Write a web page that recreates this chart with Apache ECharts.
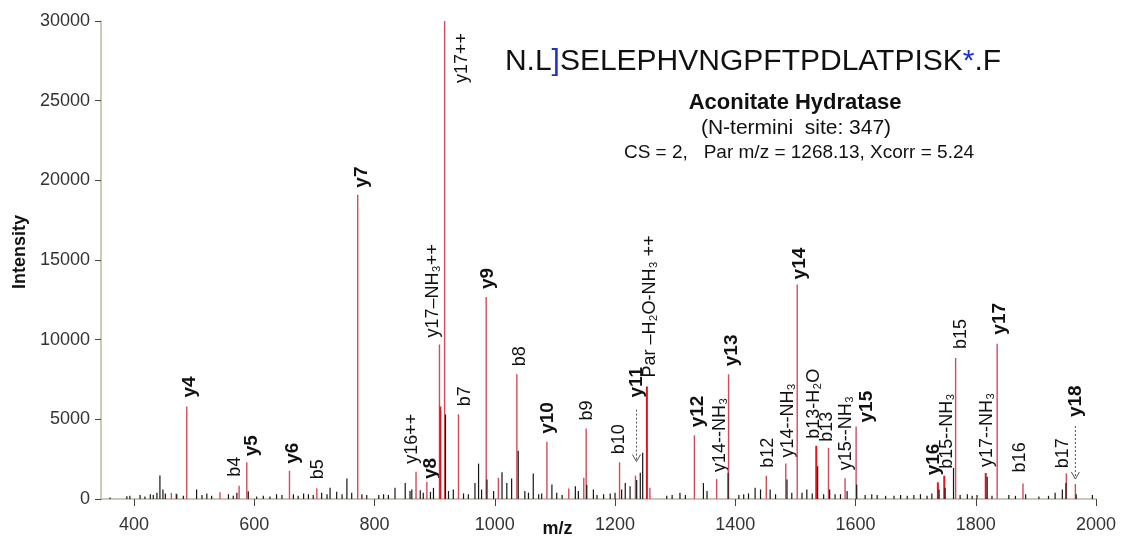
<!DOCTYPE html>
<html><head><meta charset="utf-8">
<script src="https://cdn.jsdelivr.net/npm/echarts@6/dist/echarts.min.js"></script>
<style>html,body{margin:0;padding:0;background:#fff}#c{width:1124px;height:546px}</style>
</head><body><div id="c"></div>
<script>
// ---- tick labels ----
const xTicks = [400, 600, 800, 1000, 1200, 1400, 1600, 1800, 2000];
const yTicks = [0, 5000, 10000, 15000, 20000, 25000, 30000];

// ---- annotated (matched) fragment ions ----
const ionMz = [462, 470, 487.6, 543, 574.7, 587.5, 658.5, 704, 772, 869, 887, 908, 909.5, 916.5, 939.6,
  985.7, 1006, 1036.7, 1086.7, 1123, 1148, 1152, 1207.5, 1234, 1253, 1258, 1332, 1369, 1388.8,
  1451.6, 1484, 1503, 1534.7, 1555, 1582.6, 1601, 1737, 1747.6, 1766.5, 1816.6, 1835.6, 1878.6, 1950.7, 1965.7];
const ionIntensity = [380, 350, 5800, 430, 830, 2300, 1770, 680, 19100, 1710, 1060, 9700, 5800, 30000, 5320,
  12670, 1330, 7830, 3590, 660, 1330, 4430, 2300, 1470, 7060, 700, 4000, 1250, 7830,
  1460, 2230, 13470, 3340, 3215, 1295, 4550, 1045, 1460, 8850, 1630, 9750, 980, 1610, 940];
const ionLabels = ['', '', 'y4', '', 'b4', 'y5', 'y6', 'b5', 'y7', 'y16++', 'y8', 'y17\u2013NH\u2083++', '', 'y17++', 'b7',
  'y9', '', 'b8', 'y10', '', '', 'b9', 'b10', 'y11', 'Par \u2013H\u2082O-NH\u2083 ++', '', 'y12', 'y14--NH\u2083', 'y13',
  'b12', 'y14--NH\u2083', 'y14', 'b13-H\u2082O', 'b13', 'y15--NH\u2083', 'y15', 'y16', 'b15--NH\u2083', 'b15', 'y17--NH\u2083', 'y17', 'b16', 'b17', 'y18'];

// ---- unannotated peaks ----
const noiseMz = [360,388,393,410,418,427,432,438,443,448,452,471,482,504,513,521,529,557,565,571,590,604,615,626,637,646,665,673,682,690,698,712,721,726,737,746,754,762,779,787,807,815,823,834,851,859,862,876,881,893,898,918,923,931,948,956,967,973,978,987,998,1012,1020,1028,1039,1050,1056,1064,1073,1078,1095,1103,1112,1134,1139,1153,1164,1170,1181,1192,1200,1211,1217,1225,1236,1242,1246,1286,1295,1308,1317,1347,1353,1388,1406,1414,1422,1433,1442,1458,1467,1486,1494,1511,1519,1528,1537,1547,1557,1566,1575,1586,1602,1616,1627,1636,1650,1664,1675,1686,1697,1708,1719,1727,1739,1749,1763,1774,1786,1794,1802,1819,1827,1855,1866,1883,1905,1921,1932,1944,1950,1967,1994];
const noiseIntensity = [100,175,200,250,150,300,250,400,1470,600,350,300,200,600,250,350,200,300,200,400,490,150,200,150,300,250,300,200,350,300,250,400,300,700,450,300,1280,390,300,250,250,300,250,700,1010,500,600,550,400,450,700,5300,500,600,350,300,1010,2220,600,1220,500,1680,1010,1280,3025,500,400,1600,300,350,910,400,250,800,500,900,600,250,300,350,400,600,1010,800,1200,1640,2900,200,250,400,250,1000,500,1640,250,300,350,700,600,600,300,1220,400,400,600,350,2050,300,600,300,300,500,910,250,300,250,200,200,250,200,250,300,200,350,600,700,1950,250,300,200,250,1400,200,250,200,300,150,200,400,600,1010,300,250];

// ---- styling (placement of rotated annotations: [dx px, gap px above peak top]) ----
const labelPlace = [null,null,[3,9],null,[-4,9],[5,6],[3,7],[1,9],[4,7],[-4,8],[4,3],[-6,7],null,[17,-62],[7,8],
  [2,8],null,[3,8],[1,8],null,null,[1,8],[-1,8],[1,78],[3,9],null,[3,8],[3,7],[3,8],
  [2,8],[2,6],[3,5],[-2,7],[-1,6],[1,8],[11,4],[-4,7],[3,7],[5,9],[1,6],[3,9],[-3,11],[-3,5],[0,67]];
const arrowCfg = {23: [12, 14], 43: [9, 5]}; // [start below label start, end gap above peak top]
const brightIdx = new Set([12, 24, 32, 36, 37, 39]);

const F = "'Liberation Sans', Arial, Helvetica, sans-serif";
const chart = echarts.init(document.getElementById('c'), null, {renderer: 'canvas'});

function renderNoise(params, api) {
  const x = api.value(0), v = api.value(1);
  const b = api.coord([x, 0]), t = api.coord([x, v]);
  return {type: 'line', shape: {x1: b[0], y1: b[1], x2: t[0], y2: t[1]},
    style: {stroke: '#151515', lineWidth: 1.2}};
}

function renderIon(params, api) {
  const i = params.dataIndex;
  const x = api.value(0), v = api.value(1);
  const b = api.coord([x, 0]), t = api.coord([x, v]);
  const bright = brightIdx.has(i);
  const children = [{type: 'line', shape: {x1: b[0], y1: b[1], x2: t[0], y2: t[1]},
    style: {stroke: bright ? '#e0161f' : '#d04c5a', lineWidth: bright ? 2 : 1.4}}];
  const lab = ionLabels[i];
  if (lab) {
    const pl = labelPlace[i];
    const bold = /^y\d+$/.test(lab);
    const ax = t[0] + pl[0], ay = t[1] - pl[1];
    children.push({type: 'text', x: ax, y: ay, rotation: Math.PI / 2,
      style: {text: lab, x: 0, y: 0, fill: '#111', fontFamily: F, fontSize: bold ? 19 : 18,
        fontWeight: bold ? 'bold' : 'normal', align: 'left', verticalAlign: 'middle'}});
    if (arrowCfg[i]) {
      const y1 = ay + arrowCfg[i][0], y2 = t[1] - arrowCfg[i][1];
      children.push({type: 'line', shape: {x1: ax, y1: y1, x2: ax, y2: y2},
        style: {stroke: '#555', lineWidth: 1, lineDash: [2, 2]}});
      children.push({type: 'polyline', shape: {points: [[ax - 4, y2 - 7], [ax, y2], [ax + 4, y2 - 7]]},
        style: {stroke: '#555', lineWidth: 1, fill: null}});
    }
  }
  return {type: 'group', children: children};
}

const option = {
  animation: false,
  backgroundColor: '#fff',
  grid: {left: 101, right: 28, top: 21, bottom: 47, outerBoundsMode: 'none', containLabel: false},
  xAxis: {
    type: 'value', min: 345, max: 2000,
    name: 'm/z', nameLocation: 'middle', nameGap: 21, nameMoveOverlap: false,
    nameTextStyle: {fontFamily: F, fontWeight: 'bold', fontSize: 18, color: '#111', padding: [0, 82, 0, 0]},
    axisLine: {show: true, onZero: false, lineStyle: {color: '#b8b89e', width: 1.5}},
    axisTick: {show: true, customValues: xTicks, length: 7, lineStyle: {color: '#444'}},
    axisLabel: {customValues: xTicks, fontFamily: F, fontSize: 18, color: '#333', margin: 17,
      formatter: function (v) { return String(v); }},
    splitLine: {show: false}
  },
  yAxis: {
    type: 'value', min: 0, max: 30000, interval: 5000,
    name: 'Intensity', nameLocation: 'middle', nameGap: 72, nameMoveOverlap: false,
    nameTextStyle: {fontFamily: F, fontWeight: 'bold', fontSize: 18, color: '#111', padding: [0, 0, 0, 16]},
    axisLine: {show: true, lineStyle: {color: '#b8b89e', width: 1.5}},
    axisTick: {show: true, length: 6, lineStyle: {color: '#444'}},
    axisLabel: {fontFamily: F, fontSize: 18, color: '#333', margin: 11,
      formatter: function (v) { return yTicks.indexOf(v) >= 0 ? String(v) : ''; }},
    splitLine: {show: false}
  },
  graphic: [
    {type: 'text', x: 753, y: 62, style: {
      text: '{a|N.L}{b|]}{a|SELEPHVNGPFTPDLATPISK}{b|*}{a|.F}',
      rich: {a: {fontFamily: F, fontSize: 30, fill: '#111'}, b: {fontFamily: F, fontSize: 30, fill: '#1f2fd0'}},
      align: 'center', verticalAlign: 'middle'}},
    {type: 'text', x: 795, y: 103, style: {text: 'Aconitate Hydratase', fontFamily: F, fontWeight: 'bold',
      fontSize: 22, fill: '#111', align: 'center', verticalAlign: 'middle'}},
    {type: 'text', x: 796, y: 128, style: {text: '(N-termini  site: 347)', fontFamily: F,
      fontSize: 21, fill: '#111', align: 'center', verticalAlign: 'middle'}},
    {type: 'text', x: 799, y: 153, style: {text: 'CS = 2,   Par m/z = 1268.13, Xcorr = 5.24', fontFamily: F,
      fontSize: 19, fill: '#111', align: 'center', verticalAlign: 'middle'}}
  ],
  series: [
    {type: 'custom', coordinateSystem: 'cartesian2d', renderItem: renderIon, clip: false,
      encode: {x: 0, y: 1}, data: ionMz.map((m, i) => [m, ionIntensity[i]])},
    {type: 'custom', coordinateSystem: 'cartesian2d', renderItem: renderNoise, clip: false,
      encode: {x: 0, y: 1}, data: noiseMz.map((m, i) => [m, noiseIntensity[i]])}
  ]
};
chart.setOption(option);
</script>
</body></html>
